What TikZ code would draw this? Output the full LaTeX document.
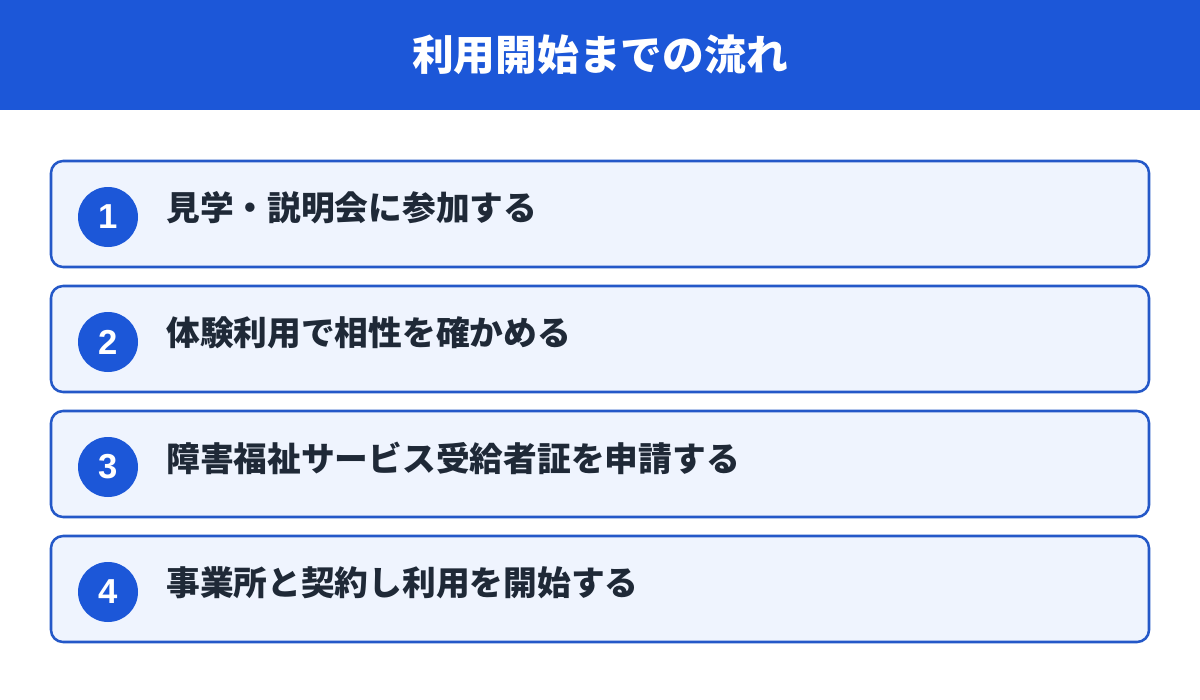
\documentclass[tikz,border=0pt]{standalone}
\usepackage{fontspec}
\setmainfont{Noto Sans CJK JP}
\newfontfamily\digitfont{Liberation Sans}
\usepackage{tikz}

\definecolor{headblue}{RGB}{28,87,216}
\definecolor{lineblue}{RGB}{36,88,200}
\definecolor{boxfill}{RGB}{239,244,254}
\definecolor{inkdark}{RGB}{31,41,55}

\tikzset{
  stepbox/.style={draw=lineblue,line width=1.9pt,fill=boxfill,rounded corners=9pt},
  numdisc/.style={circle,fill=headblue,minimum size=45pt,inner sep=0pt,text=white,font=\digitfont\fontsize{26pt}{30pt}\selectfont\bfseries},
  steptext/.style={anchor=west,inner sep=0pt,text=inkdark,font=\fontsize{25.3pt}{28pt}\selectfont\bfseries},
}

\begin{document}
\begin{tikzpicture}[x=0.75pt,y=0.75pt,yscale=-1,xscale=1]
\useasboundingbox (0,0) rectangle (1200,700);
\fill[white] (0,0) rectangle (1200,700);
% header
\fill[headblue] (0,0) rectangle (1200,110);
\node[text=white,inner sep=0pt,font=\fontsize{31.3pt}{34pt}\selectfont\bfseries] (title) at (600,55) {利用開始までの流れ};
% steps
\draw[stepbox] (51,161) rectangle (1149,267);
\node[numdisc] (n1) at (108,217) {1};
\node[steptext] (s1) at (166,208) {見学・説明会に参加する};
\draw[stepbox] (51,286) rectangle (1149,392);
\node[numdisc] (n2) at (108,342) {2};
\node[steptext] (s2) at (166,333) {体験利用で相性を確かめる};
\draw[stepbox] (51,411) rectangle (1149,517);
\node[numdisc] (n3) at (108,467) {3};
\node[steptext] (s3) at (166,458) {障害福祉サービス受給者証を申請する};
\draw[stepbox] (51,536) rectangle (1149,642);
\node[numdisc] (n4) at (108,592) {4};
\node[steptext] (s4) at (166,583) {事業所と契約し利用を開始する};
\end{tikzpicture}
\end{document}
